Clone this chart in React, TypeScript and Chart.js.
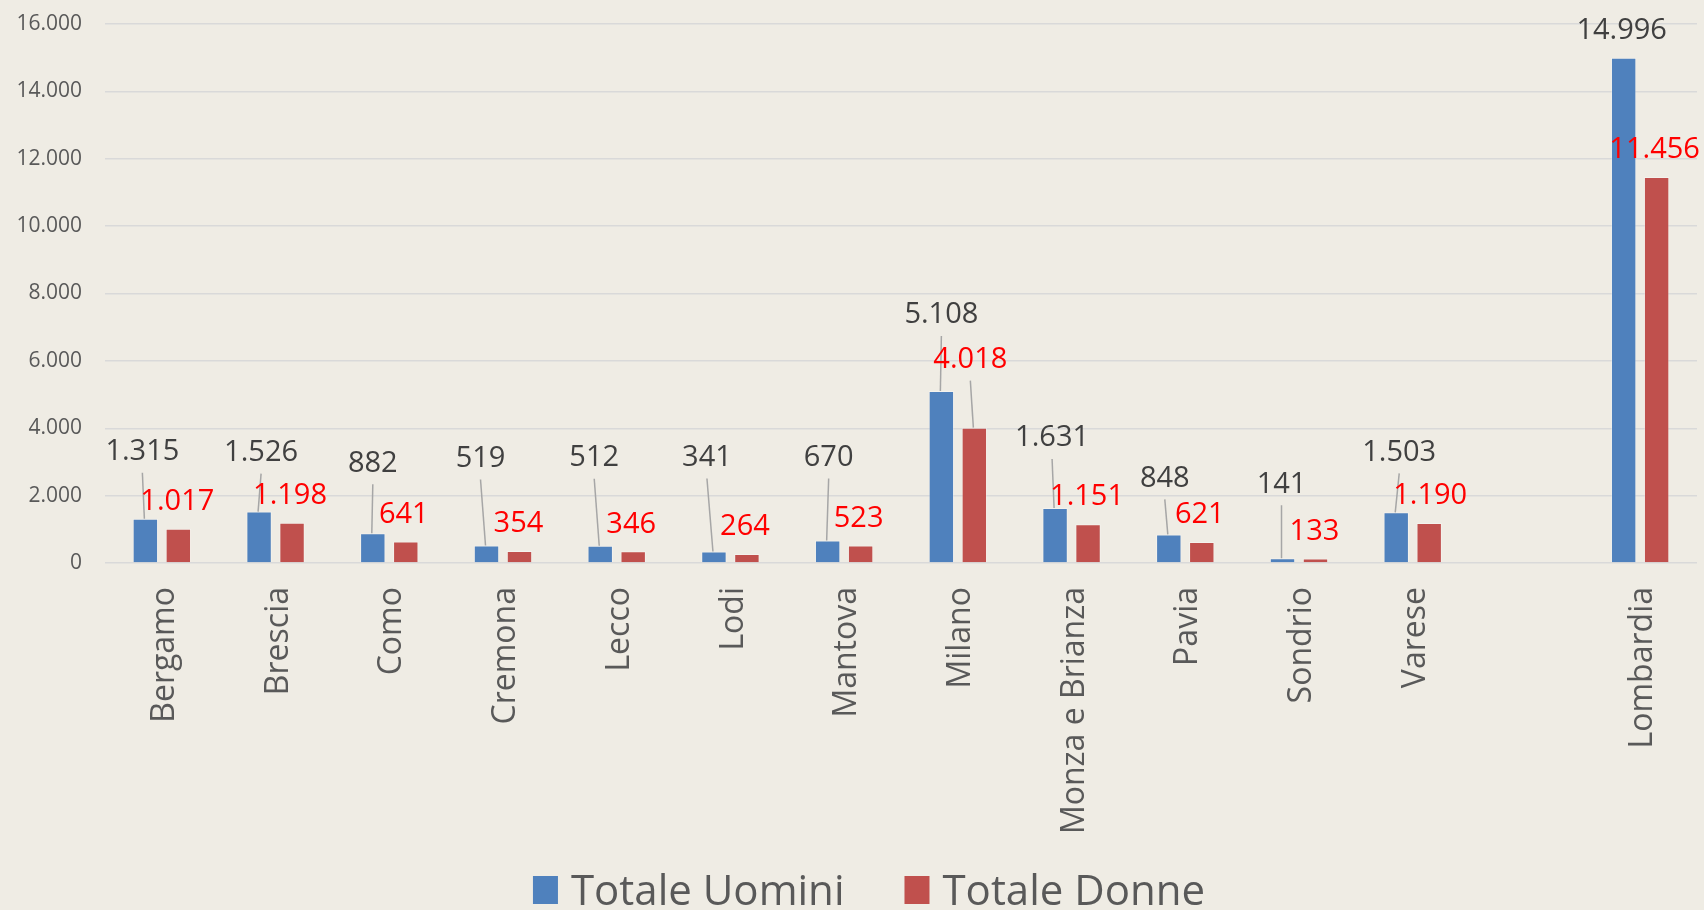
import React, { useEffect, useRef } from "react";
import { Chart, registerables } from "chart.js";

Chart.register(...registerables);

const categories = [
  "Bergamo", "Brescia", "Como", "Cremona", "Lecco", "Lodi", "Mantova",
  "Milano", "Monza e Brianza", "Pavia", "Sondrio", "Varese", "", "Lombardia",
];
const menValues = [1315, 1526, 882, 519, 512, 341, 670, 5108, 1631, 848, 141, 1503, null, 14996];
const womenValues = [1017, 1198, 641, 354, 346, 264, 523, 4018, 1151, 621, 133, 1190, null, 11456];
const seriesNames = ["Totale Uomini", "Totale Donne"];
const yTicks = [0, 2000, 4000, 6000, 8000, 10000, 12000, 14000, 16000];

// label placement tweaks (pixels): extra lift above default and horizontal shift
const menLabelLift = [40, 32, 43, 60, 61, 67, 56, 49, 43, 29, 47, 33, 0, 0];
const menLabelDx = [-3, 2, 0, -6, -6, -7, 1, 0, -3, -4, -1, 3, 0, -2];
const womenLabelLift = [0, 0, 0, 0, 0, 0, 0, 41, 0, 0, 0, 0, 0, 0];
const womenLabelDx = [-1, -2, -2, -1, -2, -2, -2, -4, -1, -2, -1, 1, 0, -2];

const BLUE = "#4F81BD";
const RED = "#C0504D";
const BG = "#EFECE4";
const TEXT = "#595959";
const FONT = "'Open Sans', sans-serif";

const fmt = (v: number) => String(v).replace(/\B(?=(\d{3})+(?!\d))/g, ".");

const dataLabelPlugin = {
  id: "dataLabels",
  afterDatasetsDraw(chart: any) {
    const ctx = chart.ctx;
    const lifts = [menLabelLift, womenLabelLift];
    const dxs = [menLabelDx, womenLabelDx];
    const colors = ["#404040", "#FF0000"];
    ctx.save();
    chart.data.datasets.forEach((ds: any, di: number) => {
      const meta = chart.getDatasetMeta(di);
      meta.data.forEach((bar: any, i: number) => {
        const v = ds.data[i];
        if (v === null || v === undefined) return;
        const lift = lifts[di][i];
        const lx = bar.x + dxs[di][i];
        const ly = bar.y - 27 - lift;
        if (lift > 10) {
          ctx.strokeStyle = "#A6A6A6";
          ctx.lineWidth = 1.5;
          ctx.beginPath();
          ctx.moveTo(lx, ly + 21);
          ctx.lineTo(bar.x - 1, bar.y);
          ctx.stroke();
        }
        ctx.font = `29px ${FONT}`;
        ctx.fillStyle = colors[di];
        ctx.textAlign = "center";
        ctx.textBaseline = "middle";
        ctx.fillText(fmt(v), lx, ly);
      });
    });
    ctx.restore();
  },
};

const legendPlugin = {
  id: "bottomLegend",
  afterDraw(chart: any) {
    const ctx = chart.ctx;
    const baseline = 905;
    const sq = 25;
    const gapSq = 13;
    const gapItem = 60;
    ctx.save();
    ctx.font = `42px ${FONT}`;
    const items = chart.data.datasets.map((d: any) => ({
      text: d.label,
      color: d.backgroundColor,
      w: ctx.measureText(d.label).width,
    }));
    let total = 0;
    items.forEach((it: any, k: number) => {
      total += sq + gapSq + it.w + (k < items.length - 1 ? gapItem : 0);
    });
    let x = chart.width * 0.51 - total / 2;
    items.forEach((it: any) => {
      ctx.fillStyle = it.color;
      ctx.fillRect(x, baseline - 29, sq, 28);
      x += sq + gapSq;
      ctx.fillStyle = TEXT;
      ctx.textAlign = "left";
      ctx.textBaseline = "alphabetic";
      ctx.fillText(it.text, x, baseline);
      x += it.w + gapItem;
    });
    ctx.restore();
  },
};

export default function App() {
  const ref = useRef<HTMLCanvasElement | null>(null);

  useEffect(() => {
    document.body.style.margin = "0";
    document.body.style.background = BG;
    const canvas = ref.current;
    if (!canvas) return;
    const chart = new Chart(canvas, {
      type: "bar",
      data: {
        labels: categories,
        datasets: [
          {
            label: seriesNames[0],
            data: menValues,
            backgroundColor: BLUE,
            borderColor: "rgba(255,255,255,0.35)",
            borderWidth: 1,
            categoryPercentage: 0.58,
            barPercentage: 0.77,
          },
          {
            label: seriesNames[1],
            data: womenValues,
            backgroundColor: RED,
            borderColor: "rgba(255,255,255,0.35)",
            borderWidth: 1,
            categoryPercentage: 0.58,
            barPercentage: 0.77,
          },
        ],
      },
      options: {
        responsive: true,
        maintainAspectRatio: false,
        animation: false,
        layout: { padding: { top: 24, right: 7, bottom: 0, left: 0 } },
        plugins: {
          legend: { display: false },
          tooltip: { enabled: false },
        },
        scales: {
          x: {
            grid: { display: false, drawTicks: false },
            border: { display: false },
            ticks: {
              minRotation: 90,
              maxRotation: 90,
              autoSkip: false,
              padding: 24,
              labelOffset: 3,
              color: TEXT,
              font: { family: FONT, size: 32 },
            },
            afterFit: (s: any) => {
              s.height = 347;
            },
          },
          y: {
            min: 0,
            max: 16000,
            afterBuildTicks: (s: any) => {
              s.ticks = yTicks.map((v) => ({ value: v }));
            },
            grid: { color: "#D9D9D9", lineWidth: 1.5, drawTicks: false },
            border: { display: false },
            ticks: {
              padding: 23,
              color: TEXT,
              font: { family: FONT, size: 21 },
              callback: (v: any) => fmt(Number(v)),
            },
            afterFit: (s: any) => {
              s.width = 105;
              s.paddingTop = 0;
              s.paddingBottom = 0;
            },
          },
        },
      },
      plugins: [dataLabelPlugin, legendPlugin],
    });
    return () => chart.destroy();
  }, []);

  return (
    <div style={{ width: "1704px", height: "910px", background: BG, position: "relative" }}>
      <canvas ref={ref} />
    </div>
  );
}
